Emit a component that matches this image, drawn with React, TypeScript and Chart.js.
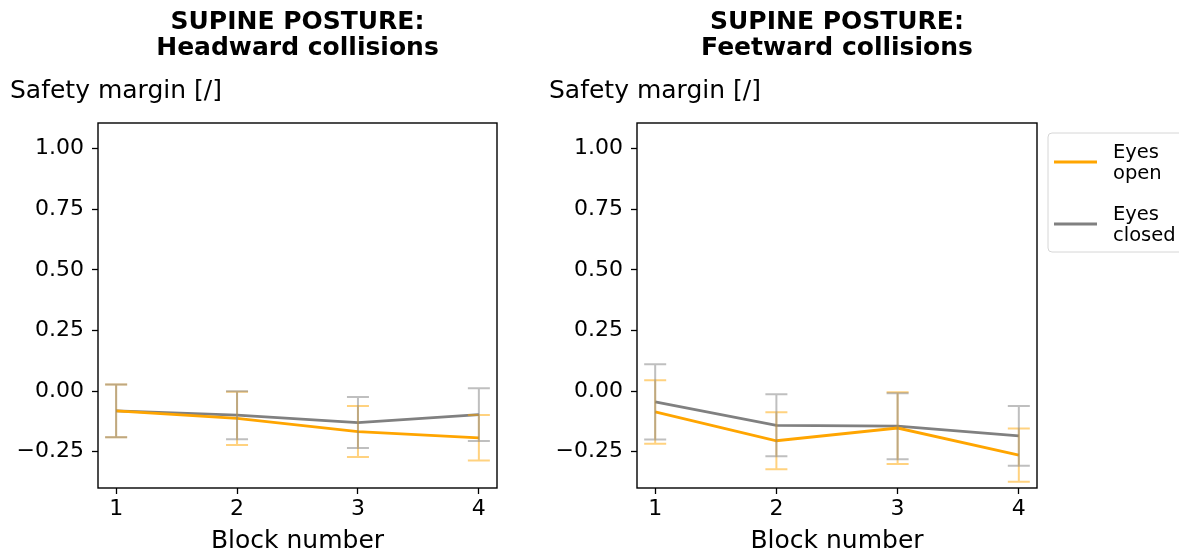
import React, { useEffect, useRef } from "react";
import { Chart, registerables } from "chart.js";

Chart.register(...registerables);

// Block numbers on the x axis and tick values on the y axis
const blocks = [1, 2, 3, 4];
const yTickValues = [-0.25, 0, 0.25, 0.5, 0.75, 1.0];

// Headward collisions: mean safety margin and error half-widths
const headOpenMean = [-0.082, -0.113, -0.167, -0.193];
const headOpenErr = [0.109, 0.11, 0.105, 0.094];
const headClosedMean = [-0.082, -0.0995, -0.13, -0.0975];
const headClosedErr = [0.109, 0.099, 0.105, 0.109];

// Feetward collisions: mean safety margin and error half-widths
const feetOpenMean = [-0.086, -0.205, -0.1525, -0.264];
const feetOpenErr = [0.131, 0.118, 0.148, 0.11];
const feetClosedMean = [-0.0445, -0.1415, -0.145, -0.185];
const feetClosedErr = [0.155, 0.128, 0.136, 0.123];

const seriesLabels = ["Eyes open", "Eyes closed"];

const ORANGE = "#ffa500";
const GRAY = "#808080";
const FONT = '"DejaVu Sans", sans-serif';

type Series = { label: string; color: string; mean: number[]; err: number[] };

function withAlpha(hex: string, a: number) {
  const n = parseInt(hex.slice(1), 16);
  return `rgba(${(n >> 16) & 255},${(n >> 8) & 255},${n & 255},${a})`;
}

const errorBarPlugin = {
  id: "errorBars",
  afterDatasetsDraw(chart: any, _args: any, opts: any) {
    const { ctx } = chart;
    const xs = chart.scales.x;
    const ys = chart.scales.y;
    const series: Series[] = opts.series || [];
    ctx.save();
    ctx.lineWidth = 2;
    series.forEach((s) => {
      ctx.strokeStyle = withAlpha(s.color, 0.5);
      blocks.forEach((b, i) => {
        const px = xs.getPixelForValue(b);
        const top = ys.getPixelForValue(s.mean[i] + s.err[i]);
        const bot = ys.getPixelForValue(s.mean[i] - s.err[i]);
        ctx.beginPath();
        ctx.moveTo(px, top);
        ctx.lineTo(px, bot);
        ctx.moveTo(px - 11, top);
        ctx.lineTo(px + 11, top);
        ctx.moveTo(px - 11, bot);
        ctx.lineTo(px + 11, bot);
        ctx.stroke();
      });
    });
    ctx.restore();
  },
};

const panelTextPlugin = {
  id: "panelText",
  afterDraw(chart: any, _args: any, opts: any) {
    const { ctx, chartArea } = chart;
    const cx = (chartArea.left + chartArea.right) / 2;
    ctx.save();
    // axes frame
    ctx.strokeStyle = "#000";
    ctx.lineWidth = 1.4;
    ctx.strokeRect(chartArea.left, chartArea.top, chartArea.right - chartArea.left, chartArea.bottom - chartArea.top);

    ctx.fillStyle = "#000";
    ctx.textBaseline = "alphabetic";
    // two-line bold title
    ctx.font = `bold 25px ${FONT}`;
    ctx.textAlign = "center";
    const lines: string[] = opts.title || [];
    lines.forEach((t, i) => ctx.fillText(t, cx, 29 + i * 26));

    // y label, horizontal above the axes
    ctx.font = `25px ${FONT}`;
    ctx.textAlign = "left";
    ctx.fillText("Safety margin [/]", chartArea.left - 88, 98);

    // x label
    ctx.font = `25px ${FONT}`;
    ctx.textAlign = "center";
    ctx.fillText("Block number", cx, 548);

    // legend
    const legend: Series[] | undefined = opts.legend;
    if (legend) {
      const lx = chartArea.right + 11;
      const ly = 133;
      const w = 150;
      const h = 119;
      const r = 4;
      ctx.beginPath();
      ctx.moveTo(lx + r, ly);
      ctx.lineTo(lx + w - r, ly);
      ctx.arcTo(lx + w, ly, lx + w, ly + r, r);
      ctx.lineTo(lx + w, ly + h - r);
      ctx.arcTo(lx + w, ly + h, lx + w - r, ly + h, r);
      ctx.lineTo(lx + r, ly + h);
      ctx.arcTo(lx, ly + h, lx, ly + h - r, r);
      ctx.lineTo(lx, ly + r);
      ctx.arcTo(lx, ly, lx + r, ly, r);
      ctx.closePath();
      ctx.fillStyle = "rgba(255,255,255,0.8)";
      ctx.fill();
      ctx.strokeStyle = "#d6d6d6";
      ctx.lineWidth = 1;
      ctx.stroke();

      ctx.font = `19.5px ${FONT}`;
      ctx.textAlign = "left";
      legend.forEach((s, i) => {
        const yc = 162 + i * 62;
        ctx.strokeStyle = s.color;
        ctx.lineWidth = 2.8;
        ctx.beginPath();
        ctx.moveTo(lx + 6, yc);
        ctx.lineTo(lx + 49, yc);
        ctx.stroke();
        ctx.fillStyle = "#000";
        const words = s.label.split(" ");
        ctx.fillText(words[0], lx + 65, yc - 4.5);
        ctx.fillText(words.slice(1).join(" "), lx + 65, yc + 17);
      });
    }
    ctx.restore();
  },
};

function fmtY(v: number) {
  const s = Math.abs(v).toFixed(2);
  return v < 0 ? "\u2212" + s : s;
}

function Panel(props: {
  left: number;
  width: number;
  rightPad: number;
  title: string[];
  series: Series[];
  legend?: boolean;
}) {
  const ref = useRef<HTMLCanvasElement>(null);
  useEffect(() => {
    const canvas = ref.current!;
    const tickFont = { family: FONT, size: 22 };
    const chart = new Chart(canvas, {
      type: "line",
      data: {
        datasets: props.series.map((s) => ({
          label: s.label,
          data: blocks.map((b, i) => ({ x: b, y: s.mean[i] })),
          borderColor: s.color,
          backgroundColor: s.color,
          borderWidth: 2.8,
          pointRadius: 0,
          tension: 0,
        })),
      },
      options: {
        animation: false,
        responsive: false,
        devicePixelRatio: 1,
        layout: { padding: { top: 123, right: props.rightPad, bottom: 0, left: 0 } },
        plugins: {
          legend: { display: false },
          title: { display: false },
          tooltip: { enabled: false },
          errorBars: { series: props.series },
          panelText: { title: props.title, legend: props.legend ? props.series : undefined },
        } as any,
        scales: {
          x: {
            type: "linear",
            min: 0.85,
            max: 4.15,
            afterBuildTicks: (scale: any) => {
              scale.ticks = blocks.map((v) => ({ value: v }));
            },
            afterFit: (scale: any) => {
              scale.height = 67;
            },
            grid: { display: true, drawOnChartArea: false, drawTicks: true, tickLength: 6, tickColor: "#000", tickWidth: 1.3 },
            border: { display: false },
            ticks: { font: tickFont, color: "#000", padding: 2, maxRotation: 0, callback: (v: any) => String(v) },
          },
          y: {
            type: "linear",
            min: -0.4,
            max: 1.106,
            afterBuildTicks: (scale: any) => {
              scale.ticks = yTickValues.map((v) => ({ value: v }));
            },
            afterFit: (scale: any) => {
              scale.width = 98;
            },
            grid: { display: true, drawOnChartArea: false, drawTicks: true, tickLength: 6, tickColor: "#000", tickWidth: 1.3 },
            border: { display: false },
            ticks: { font: tickFont, color: "#000", padding: 8, callback: (v: any) => fmtY(Number(v)) },
          },
        },
      },
      plugins: [errorBarPlugin, panelTextPlugin],
    } as any);
    return () => chart.destroy();
  }, []);
  return (
    <canvas
      ref={ref}
      width={props.width}
      height={555}
      style={{ position: "absolute", left: props.left, top: 0, width: props.width, height: 555 }}
    />
  );
}

export default function App() {
  const headSeries: Series[] = [
    { label: seriesLabels[0], color: ORANGE, mean: headOpenMean, err: headOpenErr },
    { label: seriesLabels[1], color: GRAY, mean: headClosedMean, err: headClosedErr },
  ];
  const feetSeries: Series[] = [
    { label: seriesLabels[0], color: ORANGE, mean: feetOpenMean, err: feetOpenErr },
    { label: seriesLabels[1], color: GRAY, mean: feetClosedMean, err: feetClosedErr },
  ];
  return (
    <div style={{ position: "fixed", left: 0, top: 0, width: 1179, height: 555, background: "#fff", overflow: "hidden" }}>
      <Panel left={0} width={540} rightPad={43} title={["SUPINE POSTURE:", "Headward collisions"]} series={headSeries} />
      <Panel
        left={539}
        width={640}
        rightPad={142}
        title={["SUPINE POSTURE:", "Feetward collisions"]}
        series={feetSeries}
        legend
      />
    </div>
  );
}
